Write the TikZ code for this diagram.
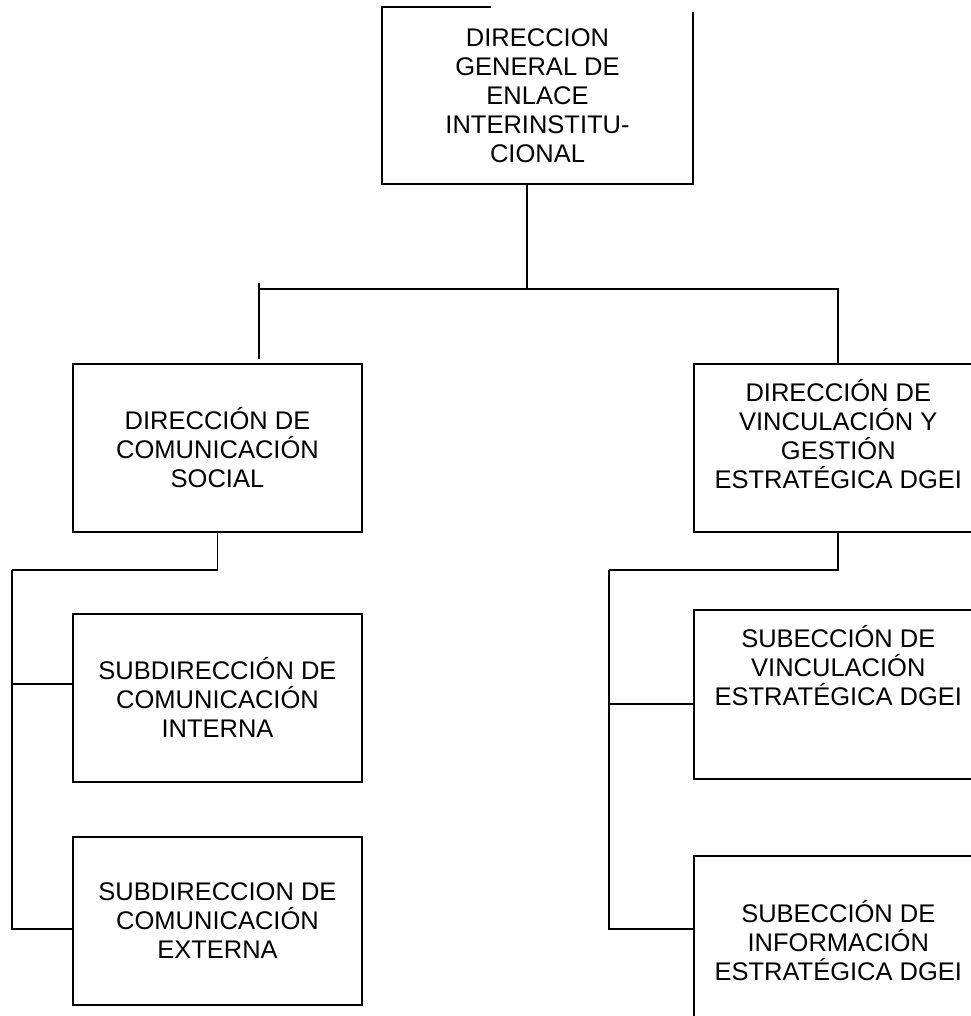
\documentclass[tikz,border=0pt]{standalone}
\usepackage{fontspec}
\setmainfont{Liberation Sans}
\usetikzlibrary{positioning}

\begin{document}
\begin{tikzpicture}[x=1pt,y=1pt,
                unitbox/.style={rectangle, draw=black, line width=1.8pt, minimum width=289pt, minimum height=168pt, inner sep=0pt, align=center, font=\fontsize{25.5}{29}\selectfont},
                link/.style={line width=1.8pt}
                ]
                \useasboundingbox (0,0) rectangle (970,-1016);
                \node[unitbox, draw=none, minimum width=309pt, minimum height=175pt] (dgei) at (537.5,-95.5) {DIRECCION\\GENERAL DE\\ENLACE\\INTERINSTITU-\\CIONAL};
                \node[unitbox] (comsoc) at (217.5,-448) {DIRECCIÓN DE\\COMUNICACIÓN\\SOCIAL};
                \node[unitbox] (vinc) [right=330pt of comsoc] {DIRECCIÓN DE\\VINCULACIÓN Y\\GESTIÓN\\ESTRATÉGICA DGEI\\\mbox{}};
                \node[unitbox] (subint) [below=80pt of comsoc] {SUBDIRECCIÓN DE\\COMUNICACIÓN\\INTERNA};
                \node[unitbox] (subext) [below=53pt of subint] {SUBDIRECCION DE\\COMUNICACIÓN\\EXTERNA};
                \node[unitbox, minimum height=169pt] (subvinc) [below=76pt of vinc] {SUBECCIÓN DE\\VINCULACIÓN\\ESTRATÉGICA DGEI\\\mbox{}\\\mbox{}};
                \node[unitbox, minimum height=169pt] (subinfo) [below=75pt of subvinc] {SUBECCIÓN DE\\INFORMACIÓN\\ESTRATÉGICA DGEI};
                % outline of the top box, open at the upper right
                \draw[link] ([xshift=109pt]dgei.north west) -- (dgei.north west) -- (dgei.south west) -- (dgei.south east) -- ([yshift=-5pt]dgei.north east);
                % top level
                \coordinate (bus) at (527,-289);
                \coordinate (dropLtop) at (259,-283);
                \coordinate (dropLend) at (259,-359);
                \draw[link] (dgei.south -| bus) -- (bus);
                \draw[link] (dropLtop |- bus) -- (bus -| vinc.north) -- (vinc.north);
                \draw[link] (dropLtop) -- (dropLend);
                % left branch
                \coordinate (spineL) at (12,-570);
                \draw[link] (comsoc.south) |- (spineL);
                \draw[link] ([yshift=14pt]subint.west) -| (spineL);
                \draw[link] ([yshift=-8pt]subext.west) -| (spineL);
                % right branch
                \coordinate (spineR) at (609,-570);
                \draw[link] (vinc.south) |- (spineR);
                \draw[link] ([yshift=-9.5pt]subvinc.west) -| (spineR);
                \draw[link] ([yshift=11pt]subinfo.west) -| (spineR);
\end{tikzpicture}
\end{document}
